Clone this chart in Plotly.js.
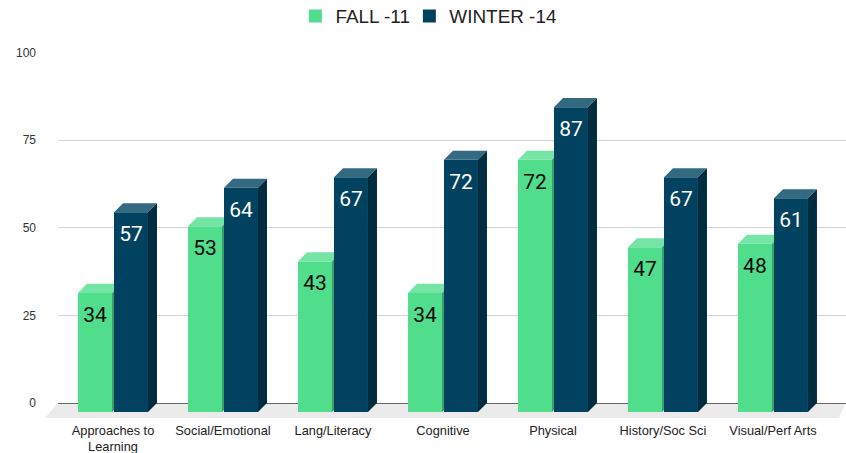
<!DOCTYPE html>
<html>
<head>
<meta charset="utf-8">
<script src="https://cdn.plot.ly/plotly-3.0.1.min.js"></script>
<style>html,body{margin:0;padding:0;background:#fff}#chart{width:846px;height:453px}</style>
</head>
<body>
<div id="chart"></div>
<script>
const categories = ["Approaches to<br>Learning","Social/Emotional","Lang/Literacy","Cognitive","Physical","History/Soc Sci","Visual/Perf Arts"];
const fall = [34,53,43,34,72,47,48];
const winter = [57,64,67,72,87,67,61];
const yTicks = [0,25,50,75,100];

const FALL_FRONT="#50dd8c", FALL_TOP="#74e5a5", FALL_SIDE="#38a066";
const WIN_FRONT="#00425f", WIN_TOP="#336a82", WIN_SIDE="#002c40";

const idx = categories.map((_,i)=>i);
const DX = 9/110, DY = 2.6;           // depth of the 3D effect, in axis units
const BW = 34/110, GAP = 2/110;       // bar width and gap, in axis units

function faces(kind){
  const gx=[],gy=[],nx=[],ny=[];
  idx.forEach(i=>{
    const gt=fall[i]-DY, nt=winter[i]-DY, b=-DY;
    const gL=i-GAP/2-BW, gR=i-GAP/2, nL=i+GAP/2, nR=i+GAP/2+BW;
    const h2=DY*GAP/DX;
    if(kind==="top"){
      gx.push(gL,gL+DX,nL,nL,gR,gL,null); gy.push(gt,gt+DY,gt+DY,gt+h2,gt,gt,null);
      nx.push(nL,nL+DX,nR+DX,nR,nL,null); ny.push(nt,nt+DY,nt+DY,nt,nt,null);
    } else {
      gx.push(gR,nL,nL,gR,gR,null); gy.push(gt,gt+h2,b+h2,b,gt,null);
      nx.push(nR,nR+DX,nR+DX,nR,nR,null); ny.push(nt,nt+DY,b+DY,b,nt,null);
    }
  });
  return {gx,gy,nx,ny};
}
const top_=faces("top"), side_=faces("side");
const poly=(x,y,c)=>({type:"scatter",x,y,mode:"none",fill:"toself",fillcolor:c,hoverinfo:"skip",showlegend:false});
const labels=(x,vals,c)=>({type:"scatter",mode:"text",x,y:vals.map(v=>v-DY-6.8),text:vals.map(String),
  textposition:"middle center",textfont:{family:"Roboto, sans-serif",size:21,color:c},hoverinfo:"skip",showlegend:false});
const legendKey=(name,c,leg)=>({type:"scatter",mode:"markers",name,legend:leg,x:[null],y:[null],
  marker:{symbol:"square",size:13,color:c},hoverinfo:"skip"});
const bar=(name,vals,c)=>({type:"bar",name,x:idx,y:vals,base:idx.map(()=>-DY),marker:{color:c,line:{width:0}},showlegend:false,hoverinfo:"x+y"});

const data=[
  bar("FALL -11",fall,FALL_FRONT),
  bar("WINTER -14",winter,WIN_FRONT),
  poly(top_.gx,top_.gy,FALL_TOP),
  poly(side_.gx,side_.gy,FALL_SIDE),
  poly(top_.nx,top_.ny,WIN_TOP),
  poly(side_.nx,side_.ny,WIN_SIDE),
  labels(idx.map(i=>i-0.164),fall,"#0a0a0a"),
  labels(idx.map(i=>i+0.164),winter,"#ffffff"),
  legendKey("FALL -11",FALL_FRONT,"legend"),
  legendKey("WINTER -14",WIN_FRONT,"legend2")
];

const legendStyle={orientation:"h",xanchor:"left",y:1.0975,yanchor:"middle",
  font:{size:18.9,color:"#222"},itemclick:false,itemdoubleclick:false,bgcolor:"rgba(0,0,0,0)"};

const layout={
  width:846,height:453,
  margin:{l:58,r:0,t:52,b:35,pad:0,autoexpand:false},
  paper_bgcolor:"#fff",plot_bgcolor:"#fff",
  barmode:"group",bargap:0.3455,bargroupgap:0.0556,
  showlegend:true,
  font:{family:"Liberation Sans, Arial, sans-serif",color:"#222"},
  xaxis:{type:"linear",range:[-0.5,6.664],tickmode:"array",tickvals:idx,ticktext:categories,automargin:false,
    showgrid:false,zeroline:false,showline:false,ticks:"",ticklabelstandoff:3,tickfont:{size:12.8,color:"#222"},fixedrange:true},
  yaxis:{range:[-4.28,100.14],tickmode:"array",tickvals:yTicks,ticktext:yTicks.map(String),automargin:false,
    gridcolor:"#d4d4d4",gridwidth:1,zeroline:true,zerolinecolor:"#666",zerolinewidth:1,
    showline:false,ticks:"",ticklabelstandoff:21,tickfont:{size:12,color:"#333"},fixedrange:true},
  legend:Object.assign({x:0.3013},legendStyle),
  legend2:Object.assign({x:0.4459},legendStyle),
  shapes:[{type:"path",xref:"paper",yref:"y",layer:"below",line:{width:0},fillcolor:"#ebebeb",
    path:"M -0.0169 -4.28 L 0 0 L 1 0 L 0.991 -4.28 Z"}]
};
Plotly.newPlot("chart",data,layout,{displayModeBar:false,staticPlot:true});
</script>
</body>
</html>
